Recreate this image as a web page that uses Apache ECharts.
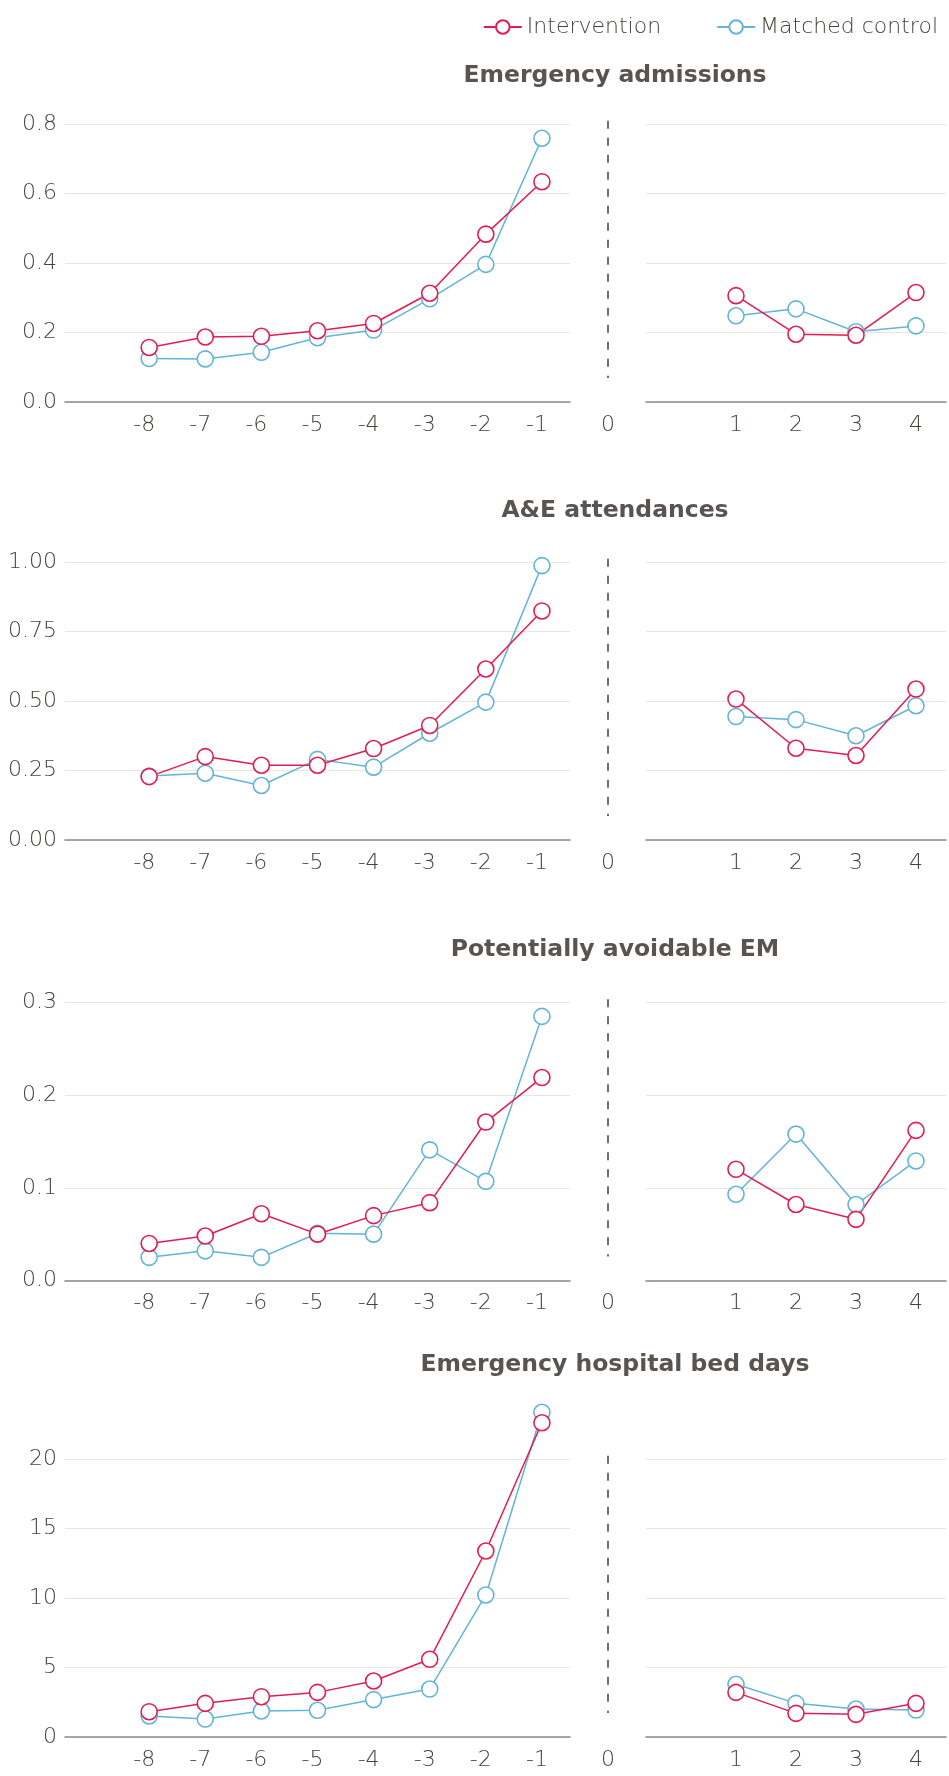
<!DOCTYPE html>
<html>
<head>
<meta charset="utf-8">
<script src="https://cdn.jsdelivr.net/npm/echarts@6/dist/echarts.min.js"></script>
<style>
html,body{margin:0;padding:0;background:#fff;}
#chart{width:949px;height:1776px;}
</style>
</head>
<body>
<div id="chart"></div>
<script>
// ---- data ----
const periodsBefore = [-8, -7, -6, -5, -4, -3, -2, -1];
const periodsAfter = [1, 2, 3, 4];
const seriesNames = ['Intervention', 'Matched control'];
const panelTitles = ['Emergency admissions', 'A&E attendances', 'Potentially avoidable EM', 'Emergency hospital bed days'];
const yMaxTicks = [0.8, 1.0, 0.3, 20];
const yIntervals = [0.2, 0.25, 0.1, 5];
const yDecimals = [1, 2, 1, 0];

const emAdmIntBefore = [0.157, 0.187, 0.189, 0.205, 0.226, 0.313, 0.483, 0.634];
const emAdmIntAfter  = [0.306, 0.195, 0.192, 0.315];
const emAdmCtlBefore = [0.125, 0.124, 0.143, 0.185, 0.207, 0.297, 0.396, 0.759];
const emAdmCtlAfter  = [0.248, 0.268, 0.202, 0.219];

const aeIntBefore = [0.228, 0.300, 0.269, 0.269, 0.329, 0.412, 0.615, 0.824];
const aeIntAfter  = [0.507, 0.330, 0.304, 0.543];
const aeCtlBefore = [0.230, 0.240, 0.196, 0.290, 0.262, 0.384, 0.496, 0.987];
const aeCtlAfter  = [0.444, 0.433, 0.375, 0.483];

const paEmIntBefore = [0.040, 0.048, 0.072, 0.050, 0.070, 0.084, 0.171, 0.219];
const paEmIntAfter  = [0.120, 0.082, 0.066, 0.162];
const paEmCtlBefore = [0.025, 0.032, 0.025, 0.051, 0.050, 0.141, 0.107, 0.285];
const paEmCtlAfter  = [0.093, 0.158, 0.082, 0.129];

const bedIntBefore = [1.82, 2.42, 2.90, 3.21, 4.03, 5.59, 13.38, 22.61];
const bedIntAfter  = [3.21, 1.70, 1.63, 2.42];
const bedCtlBefore = [1.51, 1.29, 1.87, 1.92, 2.69, 3.45, 10.22, 23.36];
const bedCtlAfter  = [3.79, 2.42, 2.01, 1.94];

const panelData = [
  {intB: emAdmIntBefore, intA: emAdmIntAfter, ctlB: emAdmCtlBefore, ctlA: emAdmCtlAfter},
  {intB: aeIntBefore, intA: aeIntAfter, ctlB: aeCtlBefore, ctlA: aeCtlAfter},
  {intB: paEmIntBefore, intA: paEmIntAfter, ctlB: paEmCtlBefore, ctlA: paEmCtlAfter},
  {intB: bedIntBefore, intA: bedIntAfter, ctlB: bedCtlBefore, ctlA: bedCtlAfter}
];

// ---- style / layout ----
const FONT = 'DejaVu Sans';
const TEXT = '#5a5451';
const LIGHT_TEXT = '#48423f';
const RED = '#e31b54';
const BLUE = '#63b4d6';
const GRID_COLOR = '#e8e5df';
const AXIS_COLOR = '#8e8a87';
const panelTops = [124, 562, 1002.5, 1459];
const panelH = 278;
const titleTops = [59, 494, 933, 1348];
const LIGHT = 300;

const grids = [], xAxes = [], yAxes = [], series = [], titles = [];

function pairs(xs, ys) { return xs.map((x, i) => [x, ys[i]]); }

function lineSeries(name, color, gi, data) {
  return {
    type: 'line', name: name, xAxisIndex: gi, yAxisIndex: gi,
    data: data, clip: false,
    symbol: 'circle', symbolSize: 16,
    itemStyle: {color: '#ffffff', borderColor: color, borderWidth: 1.6},
    lineStyle: {color: color, width: 1.5},
    emphasis: {disabled: true}
  };
}

panelData.forEach((pd, p) => {
  const top = panelTops[p];
  const yMax = yMaxTicks[p];
  const yAxisBase = {
    type: 'value', min: 0, max: yMax, interval: yIntervals[p],
    axisLine: {show: false}, axisTick: {show: false},
    splitLine: {show: true, lineStyle: {color: GRID_COLOR, width: 1.2}}
  };
  const xLabel = {color: LIGHT_TEXT, fontFamily: FONT, fontSize: 22, fontWeight: LIGHT, margin: 12};

  // left grid (before)
  let gi = grids.length;
  grids.push({left: 65, width: 505, top: top, height: panelH});
  xAxes.push({gridIndex: gi, type: 'value', min: -9.5, max: -0.5, interval: 0.5,
    axisLine: {show: true, onZero: true, lineStyle: {color: AXIS_COLOR, width: 1.6}},
    axisTick: {show: false}, splitLine: {show: false},
    axisLabel: Object.assign({}, xLabel, {padding: [0, 10, 0, 0],
      formatter: v => (Number.isInteger(v) && periodsBefore.includes(v)) ? String(v) : ''})});
  yAxes.push(Object.assign({gridIndex: gi}, yAxisBase, {
    axisLabel: {color: LIGHT_TEXT, fontFamily: FONT, fontSize: 22, fontWeight: LIGHT, margin: 8,
      formatter: v => v.toFixed(yDecimals[p])}}));
  series.push(lineSeries(seriesNames[1], BLUE, gi, pairs(periodsBefore, pd.ctlB)));
  series.push(lineSeries(seriesNames[0], RED, gi, pairs(periodsBefore, pd.intB)));

  // middle grid (period 0 with dashed divider)
  gi = grids.length;
  grids.push({left: 570, width: 76, top: top, height: panelH});
  xAxes.push({gridIndex: gi, type: 'value', min: -0.5, max: 0.5, interval: 0.5,
    axisLine: {show: false}, axisTick: {show: false}, splitLine: {show: false},
    axisLabel: Object.assign({}, xLabel, {formatter: v => v === 0 ? '0' : ''})});
  yAxes.push({gridIndex: gi, type: 'value', min: 0, max: yMax, show: false, splitLine: {show: false}});
  series.push({
    type: 'line', name: 'divider', xAxisIndex: gi, yAxisIndex: gi,
    data: [[0, yMax * 1.012], [0, yMax * 0.086]],
    symbol: 'none', clip: false, silent: true,
    lineStyle: {color: '#3f3f3f', type: [8, 9], width: 1.5},
    emphasis: {disabled: true}
  });

  // right grid (after)
  gi = grids.length;
  grids.push({left: 646, width: 303, top: top, height: panelH});
  xAxes.push({gridIndex: gi, type: 'value', min: -0.5, max: 4.5, interval: 0.5,
    axisLine: {show: true, onZero: true, lineStyle: {color: AXIS_COLOR, width: 1.6}},
    axisTick: {show: false}, splitLine: {show: false},
    axisLabel: Object.assign({}, xLabel, {
      formatter: v => (Number.isInteger(v) && periodsAfter.includes(v)) ? String(v) : ''})});
  yAxes.push(Object.assign({gridIndex: gi}, yAxisBase, {axisLabel: {show: false}}));
  series.push(lineSeries(seriesNames[1], BLUE, gi, pairs(periodsAfter, pd.ctlA)));
  series.push(lineSeries(seriesNames[0], RED, gi, pairs(periodsAfter, pd.intA)));

  titles.push({
    text: panelTitles[p], left: 610, top: titleTops[p], textAlign: 'center',
    textStyle: {fontFamily: FONT, fontSize: 23.5, fontWeight: 'bold', color: TEXT}
  });
});

const chart = echarts.init(document.getElementById('chart'), null, {renderer: 'canvas'});
chart.setOption({
  backgroundColor: '#ffffff',
  animation: false,
  title: titles,
  legend: {
    data: seriesNames, right: 6, top: 11,
    itemWidth: 38, itemHeight: 17, itemGap: 55,
    textStyle: {fontFamily: FONT, fontSize: 22, fontWeight: LIGHT, color: LIGHT_TEXT}
  },
  grid: grids,
  xAxis: xAxes,
  yAxis: yAxes,
  series: series
});
</script>
</body>
</html>
